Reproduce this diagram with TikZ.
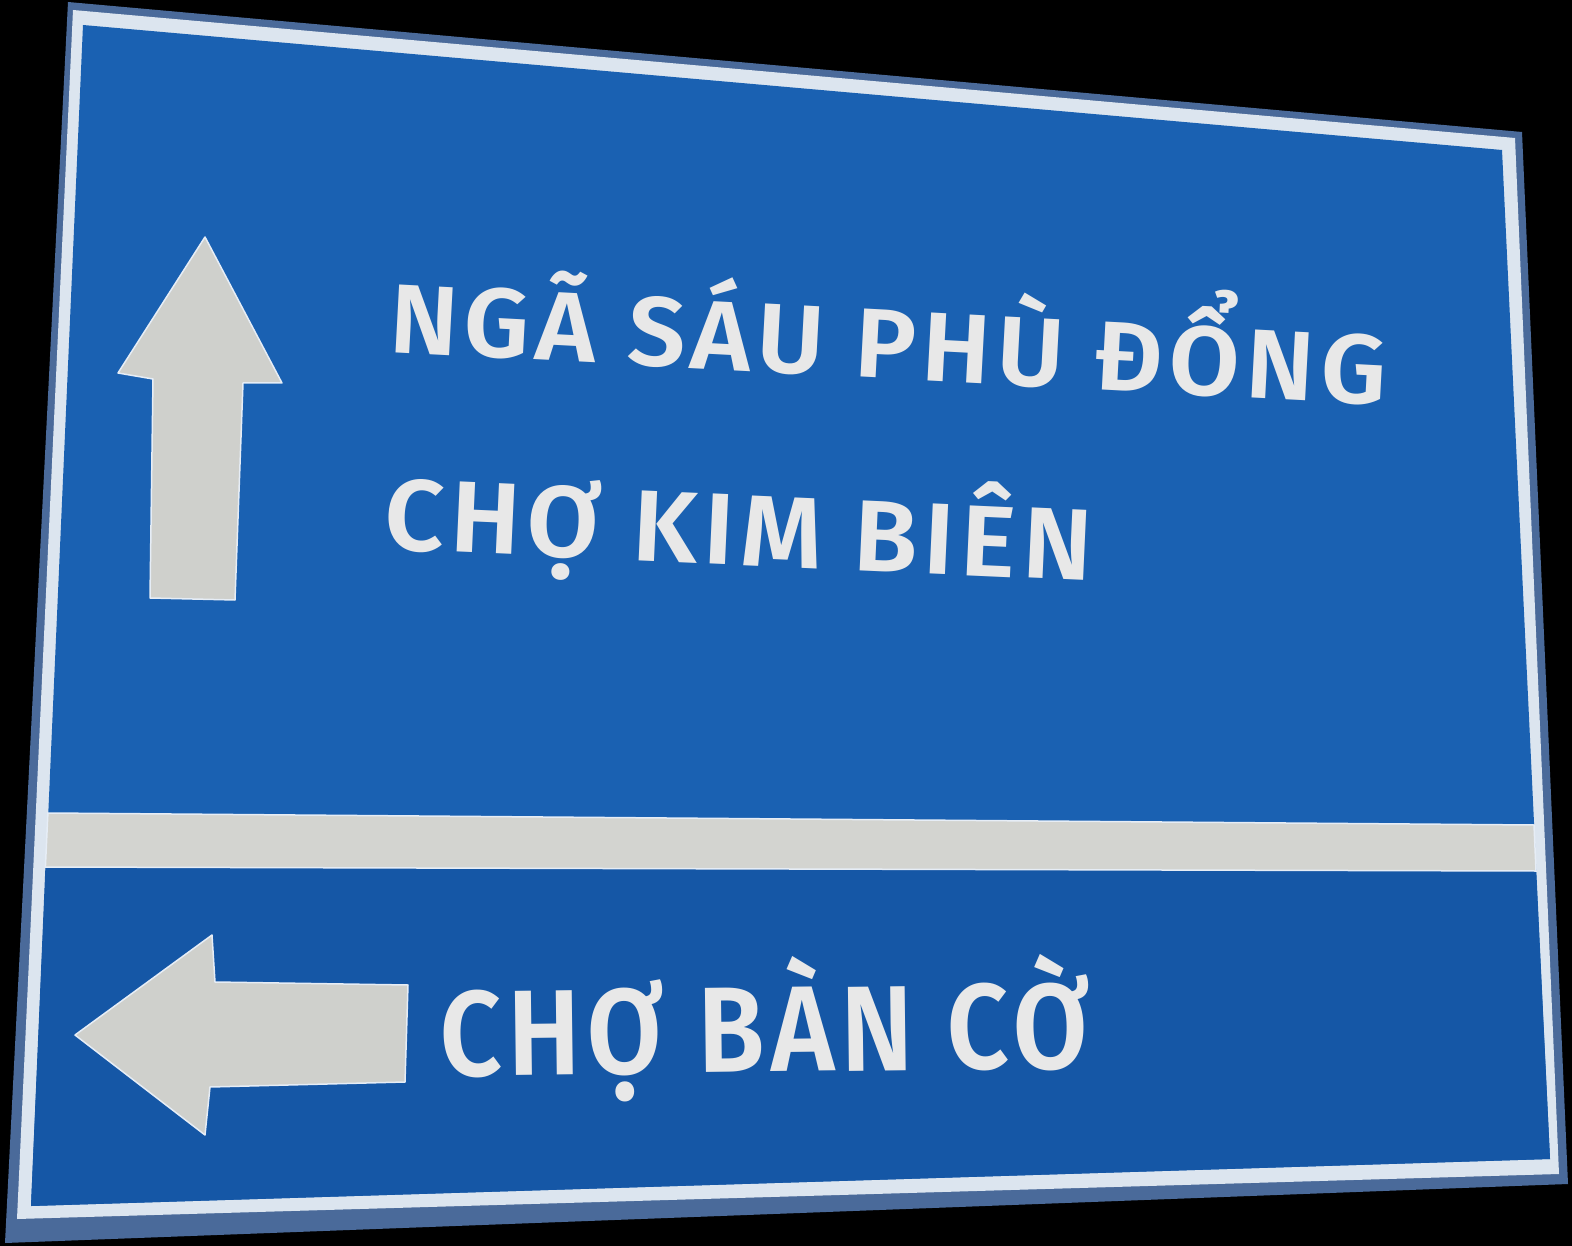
\documentclass[tikz,border=0pt]{standalone}
\usepackage{fontspec}
\setmainfont{Fira Sans}
\newfontfamily\signfont[LetterSpace=6]{Fira Sans SemiBold}
\usepackage{graphicx}
\definecolor{edgec}{HTML}{4A6A9A}
\definecolor{stripec}{HTML}{DCE5EF}
\definecolor{blueup}{HTML}{1A61B2}
\definecolor{bluelow}{HTML}{1557A6}
\definecolor{bandc}{HTML}{D3D4D0}
\definecolor{arrowc}{HTML}{CFD0CC}
\definecolor{arrowline}{HTML}{E6EDF6}
\definecolor{textc}{HTML}{E8E8E8}
\newcommand{\signtext}[3]{\resizebox{#1pt}{#2pt}{\smash{\signfont #3}\vphantom{\signfont N}}}
\begin{document}
\begin{tikzpicture}[x=1pt,y=-1pt,
  arrowshape/.style={fill=arrowc,draw=arrowline,line width=1.5pt,line join=round},
  bandshape/.style={fill=bandc,draw=arrowline,line width=1.5pt},
  label/.style={text=textc,inner sep=0pt,anchor=base west}]
\useasboundingbox (0,0) rectangle (1572,1246);
\fill[black] (0,0) rectangle (1572,1246);
% sign body
\fill[edgec] (68,2) -- (1522,132) -- (1568,1184) -- (5,1243) -- cycle;
\fill[stripec] (73,10) -- (1515,138) -- (1559,1174) -- (17,1219) -- cycle;
\fill[blueup] (83,25) -- (1502,150) -- (1550,1159) -- (31,1206) -- cycle;
\fill[bluelow] (45.4,867) -- (1536,871) -- (1550,1159) -- (31,1206) -- cycle;
% divider band
\path[bandshape] (47.9,813) -- (1534,825) -- (1536,871) -- (45.4,867) -- cycle;
% up arrow
\path[arrowshape] (205,237) -- (282,383) -- (243,383) -- (235,600) -- (150,598)
  -- (153,379) -- (118,373) -- cycle;
% left arrow
\path[arrowshape] (75,1035) -- (212,935) -- (215,982) -- (408,985) -- (405,1082)
  -- (210,1087) -- (205,1135) -- cycle;
% texts
\node[label,rotate=-3.04] (t1) at (388,352) {\signtext{998}{68}{NGÃ SÁU PHÙ ĐỔNG}};
\node[label,rotate=-2.59] (t2) at (383,549) {\signtext{708}{70}{CHỢ KIM BIÊN}};
\node[label,rotate=0.7] (t3) at (440,1076) {\signtext{650}{84}{CHỢ BÀN CỜ}};
\end{tikzpicture}
\end{document}
